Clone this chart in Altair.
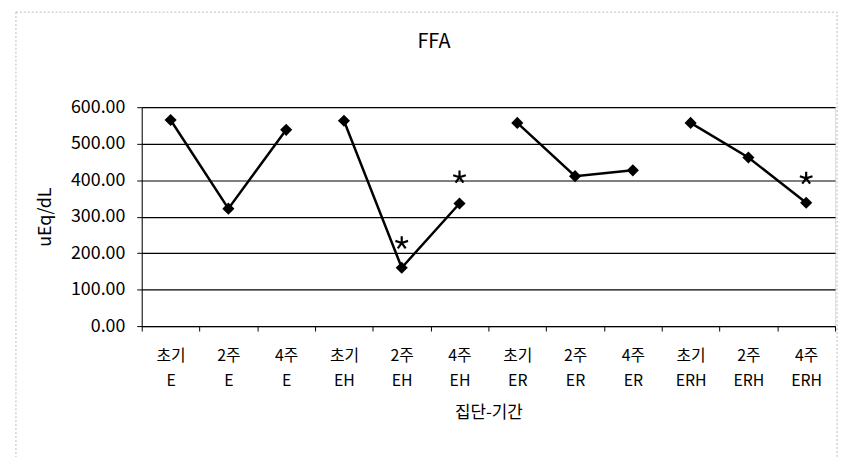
import altair as alt
import pandas as pd

groups = ["E", "EH", "ER", "ERH"]
periods = ["초기", "2주", "4주"]
values = [
    [565, 322, 538],   # E
    [563, 160, 336],   # EH
    [557, 411, 427],   # ER
    [557, 462, 338],   # ERH
]
# significance stars: (group, period, y-position of star)
stars = [("EH", "2주", 228), ("EH", "4주", 408), ("ERH", "4주", 405)]
chart_title = "FFA"

rows = []
order = []
for g, vals in zip(groups, values):
    for p, v in zip(periods, vals):
        cat = f"{p}|{g}"
        order.append(cat)
        rows.append({"cat": cat, "group": g, "value": v})
df = pd.DataFrame(rows)
star_df = pd.DataFrame([{"cat": f"{p}|{g}", "value": v} for g, p, v in stars])

FONT = "Noto Sans CJK KR"

x = alt.X("cat:N", sort=order, title="집단-기간",
          scale=alt.Scale(paddingInner=0, paddingOuter=0),
          axis=alt.Axis(labelExpr="isValid(datum.value) ? split(datum.value, '|') : ''",
                        labelAngle=0,
                        labelFontSize=16, labelLineHeight=25, labelPadding=17,
                        tickBand="extent", tickSize=5, tickColor="black",
                        domainColor="black", titleFontSize=17, titlePadding=16,
                        titleFontWeight="normal", labelColor="black", titleColor="black",
                        labelFont=FONT, titleFont=FONT, grid=False))
y = alt.Y("value:Q", title="uEq/dL",
          scale=alt.Scale(domain=[0, 600]),
          axis=alt.Axis(values=[0, 100, 200, 300, 400, 500, 600], format=".2f",
                        labelFontSize=18, labelPadding=12, tickSize=5,
                        labelOverlap=False,
                        tickColor="black", domainColor="black", gridColor="black",
                        gridOpacity=1, gridWidth=1.2, titleFontSize=18,
                        titleFontWeight="normal", titlePadding=16,
                        labelColor="black", titleColor="black",
                        labelFont=FONT, titleFont=FONT))

base = alt.Chart(df)
lines = base.mark_line(color="black", strokeWidth=2.5).encode(x=x, y=y, detail="group:N")
pts = base.mark_point(shape="diamond", filled=True, color="black", size=150, opacity=1).encode(x=x, y=y)

star_shape = ("M0,0L0,-1M0,0L0.95,-0.31M0,0L0.59,0.81M0,0L-0.59,0.81M0,0L-0.95,-0.31")
star_pts = alt.Chart(star_df).mark_point(shape=star_shape, filled=False, color="black",
                                         strokeWidth=2.2, size=180, opacity=1).encode(
    x=x, y=y)

title_df = pd.DataFrame({"t": [chart_title]})
title_mark = alt.Chart(title_df).mark_text(
    fontSize=20, font=FONT, color="black", baseline="middle", align="center").encode(
    text="t:N", x=alt.value(295), y=alt.value(-66))

border = alt.Chart(pd.DataFrame({"a": [0]})).mark_rect(
    fill=None, stroke="#bbbbbb", strokeWidth=1, strokeDash=[2, 2]).encode(
    x=alt.value(-127), x2=alt.value(702), y=alt.value(-96), y2=alt.value(356))

chart = alt.layer(border, title_mark, lines, pts, star_pts).properties(
    width=700, height=221,
    autosize=alt.AutoSizeParams(type="none"),
    padding={"left": 135, "top": 98, "right": 8, "bottom": 130},
).configure_view(stroke="#999999", strokeDash=[2, 2]).configure(background="white")

chart.save("out.html", embed_options={"renderer": "svg", "actions": False})
